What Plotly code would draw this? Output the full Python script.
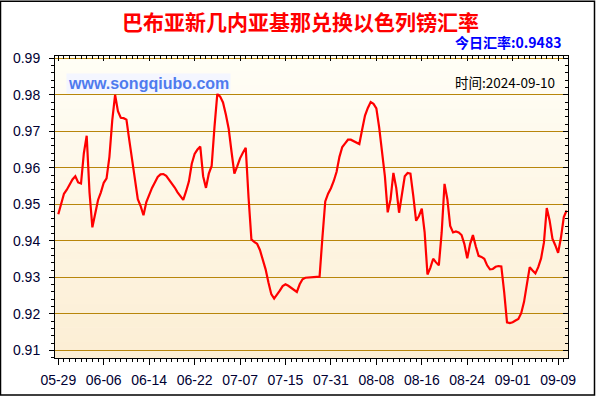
import plotly.graph_objects as go

# ---------------- data ----------------
tick_labels = ["05-29", "06-06", "06-14", "06-22", "07-07", "07-15",
               "07-31", "08-08", "08-16", "08-24", "09-01", "09-09"]
tick_index = [0, 8, 16, 24, 32, 40, 48, 56, 64, 72, 80, 88]

# rate samples, two per trading day (index step 0.5)
rates = [
    0.9473, 0.9503, 0.9529, 0.9540, 0.9553, 0.9568, 0.9577, 0.9560, 0.9557, 0.9640,
    0.9688, 0.9532, 0.9437, 0.9477, 0.9512, 0.9533, 0.9559, 0.9571, 0.9630, 0.9730,
    0.9800, 0.9755, 0.9737, 0.9736, 0.9732, 0.9676, 0.9626, 0.9568, 0.9514, 0.9495,
    0.9470, 0.9506, 0.9526, 0.9545, 0.9560, 0.9575, 0.9582, 0.9583, 0.9578, 0.9568,
    0.9556, 0.9546, 0.9533, 0.9521, 0.9512, 0.9536, 0.9563, 0.9611, 0.9638, 0.9650,
    0.9658, 0.9577, 0.9545, 0.9584, 0.9605, 0.9712, 0.9803, 0.9795, 0.9779, 0.9746,
    0.9707, 0.9644, 0.9584, 0.9604, 0.9626, 0.9641, 0.9655, 0.9518, 0.9404, 0.9397,
    0.9392, 0.9375, 0.9347, 0.9322, 0.9286, 0.9254, 0.9242, 0.9252, 0.9264, 0.9276,
    0.9281, 0.9277, 0.9271, 0.9264, 0.9260, 0.9281, 0.9295, 0.9299, 0.9300, 0.9301,
    0.9301, 0.9301, 0.9302, 0.9409, 0.9508, 0.9529, 0.9544, 0.9564, 0.9589, 0.9630,
    0.9657, 0.9667, 0.9677, 0.9677, 0.9673, 0.9668, 0.9665, 0.9705, 0.9743, 0.9764,
    0.9780, 0.9775, 0.9763, 0.9710, 0.9649, 0.9577, 0.9478, 0.9514, 0.9586, 0.9545,
    0.9477, 0.9533, 0.9577, 0.9586, 0.9584, 0.9523, 0.9455, 0.9468, 0.9488, 0.9423,
    0.9308, 0.9326, 0.9351, 0.9341, 0.9333, 0.9423, 0.9556, 0.9514, 0.9441, 0.9423,
    0.9426, 0.9423, 0.9416, 0.9391, 0.9352, 0.9391, 0.9416, 0.9385, 0.9359, 0.9356,
    0.9351, 0.9333, 0.9322, 0.9323, 0.9329, 0.9331, 0.9330, 0.9260, 0.9177, 0.9175,
    0.9177, 0.9182, 0.9186, 0.9202, 0.9233, 0.9281, 0.9328, 0.9319, 0.9311, 0.9328,
    0.9352, 0.9395, 0.9490, 0.9456, 0.9406, 0.9388, 0.9367, 0.9409, 0.9465, 0.9483,
]
day_pos = [k * 0.5 for k in range(len(rates))]

title_text = "巴布亚新几内亚基那兑换以色列镑汇率"
today_text = "今日汇率:0.9483"
site_text = "www.songqiubo.com"
date_text = "时间:2024-09-10"

# ---------------- layout geometry ----------------
W, H = 600, 400
L, R, T, B = 55, 568, 56, 362   # plot area in pixels


def px(p):
    return (p - L) / (R - L)


def py(q):
    return (B - q) / (B - T)


XR = [-0.58, 89.74]
YR = [0.90792, 0.99062]

fig = go.Figure()
fig.add_trace(go.Scatter(x=day_pos, y=rates, mode="lines",
                         line=dict(color="#FF0000", width=2.2),
                         showlegend=False, hoverinfo="skip"))
fig.add_trace(go.Scatter(x=[None], y=[None], xaxis="x2", yaxis="y2",
                         showlegend=False, hoverinfo="skip"))

# gradient background bands
n = 40
c0 = (255, 254, 246)
c1 = (252, 238, 212)
shapes = []
for k in range(n):
    f = k / (n - 1)
    col = tuple(round(c0[i] + (c1[i] - c0[i]) * f) for i in range(3))
    shapes.append(dict(type="rect", xref="paper", yref="paper", layer="below",
                       x0=0, x1=1, y0=1 - (k + 1) / n, y1=1 - k / n + 0.002,
                       fillcolor="rgb(%d,%d,%d)" % col, line=dict(width=0)))
# outer frame
shapes.append(dict(type="rect", xref="paper", yref="paper", layer="above",
                   x0=px(0.5), x1=px(594.5), y0=py(399.5), y1=py(0.5),
                   line=dict(color="#000000", width=1.5), fillcolor="rgba(0,0,0,0)"))

tickfont = dict(family="Liberation Sans, Arial", size=14, color="#000033")

fig.update_layout(
    width=W, height=H,
    margin=dict(l=L, r=W - R, t=T, b=H - B),
    paper_bgcolor="#FFFFFF", plot_bgcolor="#FFFEF6",
    shapes=shapes,
    xaxis=dict(range=XR, tickmode="array", tickvals=tick_index, ticktext=tick_labels,
               ticks="outside", ticklen=6, tickcolor="#000000", tickwidth=1,
               minor=dict(ticks="outside", tickmode="linear", tick0=0, dtick=1,
                          ticklen=3, tickcolor="#000000"),
               showline=True, linecolor="#000000", linewidth=1,
               showgrid=False, zeroline=False, tickfont=tickfont, ticklabelstandoff=3),
    xaxis2=dict(range=XR, overlaying="x", side="top", anchor="y",
                tickmode="array", tickvals=tick_index, showticklabels=False,
                ticks="inside", ticklen=5, tickcolor="#000000",
                minor=dict(ticks="inside", tickmode="linear", tick0=0, dtick=1,
                           ticklen=3, tickcolor="#000000"),
                showline=True, linecolor="#000000", linewidth=1,
                showgrid=False, zeroline=False),
    yaxis=dict(range=YR, tickmode="linear", tick0=0.91, dtick=0.01, tickformat=".2f",
               ticks="outside", ticklen=5, tickcolor="#000000",
               minor=dict(ticks="outside", tickmode="linear", tick0=0.91, dtick=0.002,
                          ticklen=3, tickcolor="#000000"),
               showline=True, linecolor="#000000", linewidth=1,
               showgrid=True, gridcolor="#B8860B", gridwidth=1,
               zeroline=False, tickfont=tickfont, ticklabelstandoff=6),
    yaxis2=dict(range=YR, overlaying="y", side="right", anchor="x",
                tickmode="linear", tick0=0.91, dtick=0.01, showticklabels=False,
                ticks="inside", ticklen=5, tickcolor="#000000",
                minor=dict(ticks="inside", tickmode="linear", tick0=0.91, dtick=0.002,
                           ticklen=3, tickcolor="#000000"),
                showline=True, linecolor="#000000", linewidth=1,
                showgrid=False, zeroline=False),
    annotations=[
        dict(text="<b>%s</b>" % title_text, xref="paper", yref="paper",
             x=px(300), y=py(21), xanchor="center", yanchor="middle", showarrow=False,
             font=dict(family="Noto Sans CJK SC", size=21, color="#FF0000")),
        dict(text="<b>%s</b>" % today_text, xref="paper", yref="paper",
             x=px(563), y=py(42), xanchor="right", yanchor="middle", showarrow=False,
             font=dict(family="Noto Sans CJK SC", size=14, color="#0000FF")),
        dict(text="<b>%s</b>" % site_text, xref="paper", yref="paper",
             x=px(66), y=py(84), xanchor="left", yanchor="middle", showarrow=False,
             bgcolor="#F4F6FF", borderpad=1,
             font=dict(family="Liberation Sans, Arial", size=16, color="#4F7BEE")),
        dict(text=date_text, xref="paper", yref="paper",
             x=px(557), y=py(82), xanchor="right", yanchor="middle", showarrow=False,
             font=dict(family="Noto Sans CJK SC", size=13.5, color="#000000")),
    ],
)

fig.write_html("out.html")
